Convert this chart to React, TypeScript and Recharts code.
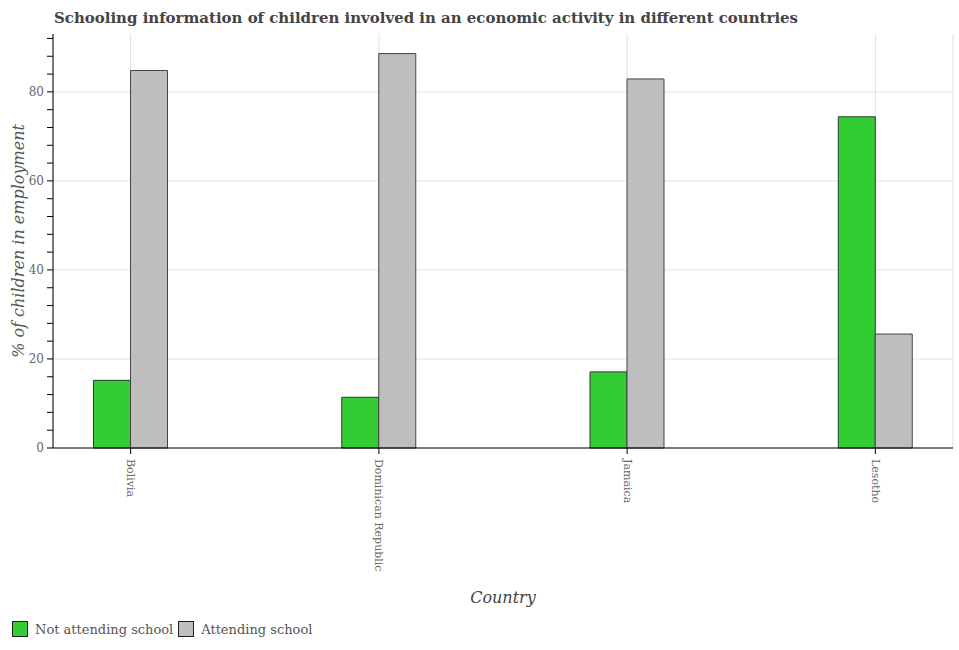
import { BarChart, Bar, XAxis, YAxis, CartesianGrid } from 'recharts';

const countries = ['Bolivia', 'Dominican Republic', 'Jamaica', 'Lesotho'];
const notAttending = [15.2, 11.4, 17.1, 74.4];
const attending = [84.8, 88.6, 82.9, 25.6];
const yTicks = [0, 4, 8, 12, 16, 20, 24, 28, 32, 36, 40, 44, 48, 52, 56, 60, 64, 68, 72, 76, 80, 84, 88, 92];
const gridValues = [0, 20, 40, 60, 80];

const FONT = '"DejaVu Serif", serif';
const GREEN = '#32cd32';
const GREY = '#bebebe';

const data = countries.map((country, i) => ({
  country,
  notAttending: notAttending[i],
  attending: attending[i],
}));

function CountryTick({ x, y, payload }: any) {
  return (
    <g transform={`translate(${x},${y})`}>
      <text
        transform="rotate(90)"
        x={3}
        y={0}
        dominantBaseline="central"
        textAnchor="start"
        fontSize={11}
        fontFamily={FONT}
        fill="#666"
      >
        {payload.value}
      </text>
    </g>
  );
}

// every 4 units gets a tick mark, only multiples of 20 get a label
function ValueTick({ x, y, payload }: any) {
  const axisX = x + 8;
  return (
    <g>
      <line x1={axisX - 6} y1={y} x2={axisX} y2={y} stroke="#000" />
      {payload.value % 20 === 0 && (
        <text
          x={axisX - 9}
          y={y}
          textAnchor="end"
          dominantBaseline="central"
          fontSize={12}
          fontFamily={FONT}
          fill="#666"
        >
          {payload.value}
        </text>
      )}
    </g>
  );
}

function LegendItem({ color, label }: { color: string; label: string }) {
  return (
    <span style={{ display: 'inline-flex', alignItems: 'center', marginRight: 5 }}>
      <span
        style={{
          display: 'inline-block',
          width: 14,
          height: 14,
          background: color,
          border: '1px solid #222',
          marginRight: 7,
        }}
      />
      {label}
    </span>
  );
}

export default function App() {
  return (
    <div style={{ position: 'absolute', left: 0, top: 0, width: 959, height: 650, background: '#fff' }}>
      <svg width={959} height={40} style={{ position: 'absolute', left: 0, top: 0 }}>
        <text
          x={54}
          y={23}
          fontSize={15.5}
          fontWeight="bold"
          fontFamily={FONT}
          fill="#444"
          textLength={744}
          lengthAdjust="spacingAndGlyphs"
        >
          Schooling information of children involved in an economic activity in different countries
        </text>
      </svg>

      <div style={{ position: 'absolute', left: 0, top: 0 }}>
        <BarChart
          width={959}
          height={650}
          data={data}
          barGap={0}
          barSize={37}
          margin={{ top: 34, right: 6, left: 8, bottom: 92 }}
        >
          <CartesianGrid stroke="#e2e2e2" horizontalValues={gridValues} />
          <XAxis
            dataKey="country"
            xAxisId={0}
            padding={{ left: -46.5, right: -46.5 }}
            tick={<CountryTick />}
            tickLine={{ stroke: '#000' }}
            axisLine={{ stroke: '#000' }}
            height={110}
            interval={0}
            label={{
              content: ({ viewBox }: any) => (
                <text
                  x={viewBox.x + viewBox.width / 2}
                  y={viewBox.y + 149}
                  textAnchor="middle"
                  dominantBaseline="central"
                  fontSize={16}
                  fontStyle="italic"
                  fontFamily={FONT}
                  fill="#444"
                >
                  Country
                </text>
              ),
            }}
          />
          <XAxis
            dataKey="country"
            xAxisId="top"
            orientation="top"
            height={0}
            tick={false}
            tickLine={false}
            axisLine={{ stroke: '#e2e2e2' }}
          />
          <YAxis
            yAxisId={0}
            type="number"
            domain={[0, 93]}
            ticks={yTicks}
            interval={0}
            width={45}
            tickSize={0}
            tickMargin={8}
            tick={<ValueTick />}
            tickLine={false}
            axisLine={{ stroke: '#000' }}
            label={{
              content: () => (
                <text
                  x={18}
                  y={241}
                  transform="rotate(-90 18 241)"
                  textAnchor="middle"
                  dominantBaseline="central"
                  fontSize={16}
                  fontStyle="italic"
                  fontFamily={FONT}
                  fill="#555"
                >
                  % of children in employment
                </text>
              ),
            }}
          />
          <YAxis
            yAxisId="right"
            orientation="right"
            width={0}
            tick={false}
            tickLine={false}
            axisLine={{ stroke: '#e2e2e2' }}
          />
          <Bar
            dataKey="notAttending"
            name="Not attending school"
            fill={GREEN}
            stroke="#333"
            strokeWidth={1}
            isAnimationActive={false}
          />
          <Bar
            dataKey="attending"
            name="Attending school"
            fill={GREY}
            stroke="#444"
            strokeWidth={1}
            isAnimationActive={false}
          />
        </BarChart>
      </div>

      <div
        style={{
          position: 'absolute',
          left: 12,
          top: 621,
          fontFamily: FONT,
          fontSize: 13,
          color: '#555',
          display: 'flex',
          alignItems: 'center',
          whiteSpace: 'nowrap',
        }}
      >
        <LegendItem color={GREEN} label="Not attending school" />
        <LegendItem color={GREY} label="Attending school" />
      </div>
    </div>
  );
}
